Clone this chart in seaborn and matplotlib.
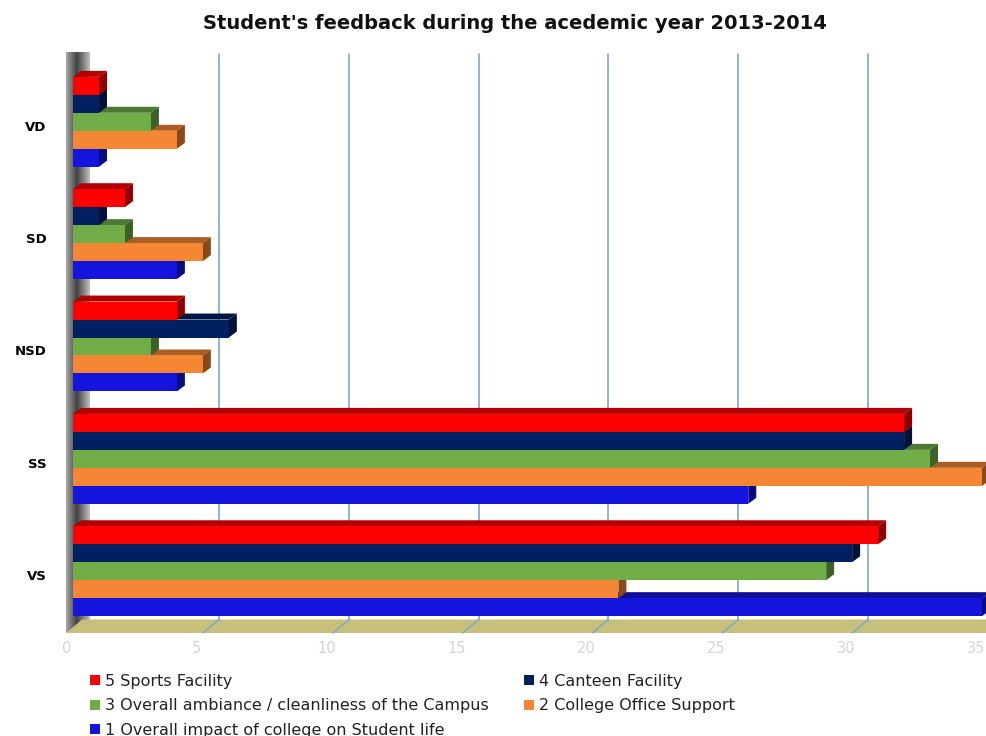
import matplotlib
matplotlib.use("Agg")
import matplotlib.pyplot as plt
from matplotlib.patches import Polygon, Rectangle
from matplotlib.transforms import ScaledTranslation
import matplotlib.colors as mcolors
import numpy as np
import pandas as pd
import seaborn as sns

categories = ["VD", "SD", "NSD", "SS", "VS"]
series_names = [
    "5 Sports Facility",
    "4 Canteen Facility",
    "3 Overall ambiance / cleanliness of the Campus",
    "2 College Office Support",
    "1 Overall impact of college on Student life",
]
sports = [1, 2, 4, 32, 31]
canteen = [1, 1, 6, 32, 30]
ambiance = [3, 2, 3, 33, 29]
office = [4, 5, 5, 35, 21]
impact = [1, 4, 4, 26, 35]
x_ticks = [0, 5, 10, 15, 20, 25, 30, 35]
title = "Student's feedback during the acedemic year 2013-2014"

colors = ["#ff0000", "#002060", "#70ad47", "#f58634", "#1414dc"]
palette = dict(zip(series_names, colors))

rows = []
for name, vals in zip(series_names, [sports, canteen, ambiance, office, impact]):
    for c, v in zip(categories, vals):
        rows.append({"category": c, "series": name, "value": v})
df = pd.DataFrame(rows)

sns.set_theme(style="white")
plt.rcParams["font.family"] = ["DejaVu Sans"]

fig = plt.figure(figsize=(9.87, 7.36), dpi=100)
ax = fig.add_axes([73 / 987, 1 - 633 / 736, (982 - 73) / 987, (633 - 60) / 736])

sns.barplot(data=df, x="value", y="category", hue="series", order=categories,
            hue_order=series_names, palette=palette, orient="h", width=0.8,
            saturation=1, legend=False, ax=ax, edgecolor="none")

ax.set_xlim(0, 35)
ax.set_ylim(4.55, -0.55)
ax.set_xticks(x_ticks)
ax.set_xlabel("")
ax.set_ylabel("")
for s in ax.spines.values():
    s.set_visible(False)
ax.tick_params(axis="x", colors="#d4d4d4", labelsize=10.5, length=0, pad=6)
ax.tick_params(axis="y", length=0, pad=19)
yshift = ScaledTranslation(0, -4 / 100, fig.dpi_scale_trans)
for lbl in ax.get_yticklabels():
    lbl.set_fontweight("bold")
    lbl.set_fontsize(9.5)
    lbl.set_color("black")
    lbl.set_transform(lbl.get_transform() + yshift)
shift = ScaledTranslation(-6 / 100, 0, fig.dpi_scale_trans)
for lbl in ax.get_xticklabels():
    lbl.set_transform(lbl.get_transform() + shift)

# 3D-like decoration
px_per_unit_x = (982 - 73) / 35
px_per_unit_y = (633 - 60) / 5.1
dx = 8 / px_per_unit_x
dy = -6 / px_per_unit_y
grid_off = 16 / px_per_unit_x
floor_top = 4.43

# left wall gradient
grad = np.linspace(0, 1, 64).reshape(1, -1)
grad = 1 - np.abs(grad - 0.45) * 1.6
ax.imshow(grad, cmap="Greys", extent=(-0.27, 0.65, 4.55, -0.62), aspect="auto",
          vmin=-0.6, vmax=1.4, zorder=0.5, clip_on=False)
ax.set_xlim(0, 35)
ax.set_ylim(4.55, -0.55)

# floor
ax.add_patch(Polygon([(-0.27, 4.55), (35.5, 4.55), (35.5 + grid_off, floor_top), (-0.27 + grid_off, floor_top)],
                     closed=True, facecolor="#c6c07a", edgecolor="none", zorder=0.6, clip_on=False))

# gridlines (back wall, shifted)
for t in x_ticks[1:-1]:
    ax.plot([t + grid_off, t + grid_off], [-0.6, floor_top], color="#7ba7cf", lw=1.2, zorder=0.7, clip_on=False)
    ax.plot([t + grid_off, t], [floor_top, 4.55], color="#7ba7cf", lw=1.0, zorder=0.7, clip_on=False)

# bars with depth faces
bars = [p for p in ax.patches if isinstance(p, Rectangle) and p.get_width() > 0 and p.get_height() < 1]
bars.sort(key=lambda p: -p.get_y())
z = 2.0
for p in bars:
    x0, y0 = p.get_x(), p.get_y()
    w, h = p.get_width(), p.get_height()
    x1 = x0 + w
    ytop, ybot = y0, y0 + h
    fc = np.array(mcolors.to_rgb(p.get_facecolor()))
    dark = fc * 0.7
    darker = fc * 0.55
    top = Polygon([(x0, ytop), (x0 + dx, ytop + dy), (x1 + dx, ytop + dy), (x1, ytop)],
                  closed=True, facecolor=dark, edgecolor="none", zorder=z, clip_on=False)
    side = Polygon([(x1, ytop), (x1 + dx, ytop + dy), (x1 + dx, ybot + dy), (x1, ybot)],
                   closed=True, facecolor=darker, edgecolor="none", zorder=z, clip_on=False)
    ax.add_patch(top)
    ax.add_patch(side)
    p.set_zorder(z + 0.5)
    p.set_clip_on(False)
    z += 1

fig.text(0.522, 0.968, title, ha="center", va="center", fontsize=14, fontweight="bold",
         color="#111111")

handles = [Rectangle((0, 0), 1, 1, facecolor=c, edgecolor="none") for c in colors]
order = [0, 2, 4, 1, 3]
leg = fig.legend([handles[i] for i in order], [series_names[i] for i in order], ncol=2,
                 loc="upper left", bbox_to_anchor=(90 / 987, 1 - 674 / 736), frameon=False,
                 fontsize=11.5, handlelength=0.6, handleheight=0.6, handletextpad=0.35,
                 columnspacing=2.2, labelspacing=0.58, borderaxespad=0, borderpad=0)
for t in leg.get_texts():
    t.set_color("#222222")

fig.savefig("out.png", dpi=100, facecolor="white")
